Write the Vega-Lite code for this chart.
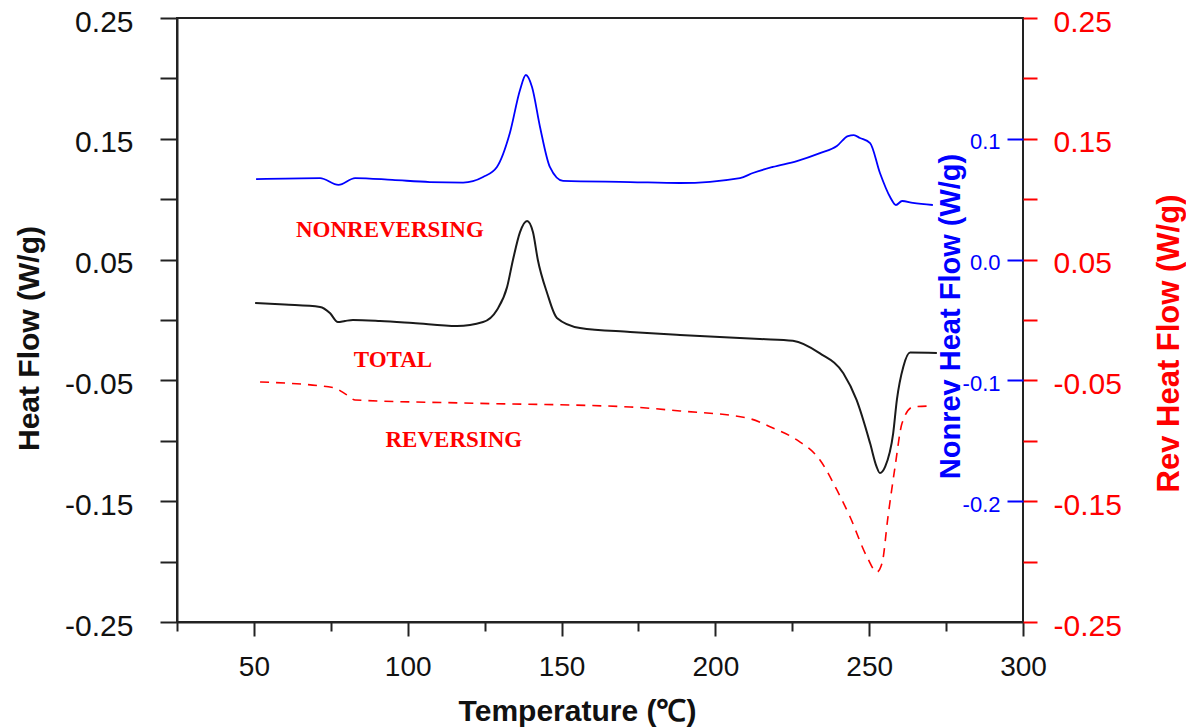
{
  "$schema": "https://vega.github.io/schema/vega-lite/v6.json",
  "width": 846,
  "height": 604,
  "autosize": {"type": "none"},
  "padding": {"left": 177, "top": 18, "right": 163, "bottom": 106},
  "background": "white",
  "config": {
    "view": {"stroke": "#222222", "strokeWidth": 2},
    "axis": {"grid": false, "labelFont": "Liberation Sans", "titleFont": "Liberation Sans"}
  },
  "datasets": {
    "total": [
      {"T": 50.4, "v": 0.0141}, {"T": 60, "v": 0.0128}, {"T": 71.5, "v": 0.0108}, {"T": 74.7, "v": 0.0058},
      {"T": 77.3, "v": -0.0017}, {"T": 79.6, "v": -0.0008}, {"T": 82.2, "v": 0.0}, {"T": 91, "v": -0.0008},
      {"T": 101.7, "v": -0.0025}, {"T": 116, "v": -0.005}, {"T": 124.5, "v": -0.0017}, {"T": 129, "v": 0.0083},
      {"T": 132.3, "v": 0.0273}, {"T": 134.2, "v": 0.0497}, {"T": 136.5, "v": 0.0728}, {"T": 138.8, "v": 0.082},
      {"T": 140.7, "v": 0.0728}, {"T": 142.3, "v": 0.0497}, {"T": 145.3, "v": 0.0224}, {"T": 148.5, "v": 0.0017},
      {"T": 156, "v": -0.0066}, {"T": 172.3, "v": -0.0099}, {"T": 188.5, "v": -0.0124}, {"T": 214.5, "v": -0.0157},
      {"T": 225.2, "v": -0.0171}, {"T": 234, "v": -0.0276}, {"T": 241.6, "v": -0.0441}, {"T": 245.9, "v": -0.0662},
      {"T": 250.3, "v": -0.1021}, {"T": 252.4, "v": -0.1214}, {"T": 253.5, "v": -0.1267}, {"T": 255.2, "v": -0.1214},
      {"T": 257.8, "v": -0.0938}, {"T": 259, "v": -0.0662}, {"T": 261.1, "v": -0.0387}, {"T": 263.3, "v": -0.027},
      {"T": 272, "v": -0.0273}
    ],
    "nonrev": [
      {"T": 50.7, "v": 0.0667}, {"T": 71.5, "v": 0.0675}, {"T": 77.5, "v": 0.0618}, {"T": 82.9, "v": 0.0675},
      {"T": 95, "v": 0.066}, {"T": 107.2, "v": 0.0642}, {"T": 118, "v": 0.0638}, {"T": 124.5, "v": 0.0684},
      {"T": 129, "v": 0.0767}, {"T": 133.2, "v": 0.1048}, {"T": 136.5, "v": 0.1404}, {"T": 138.4, "v": 0.1528},
      {"T": 140.4, "v": 0.1429}, {"T": 143, "v": 0.1098}, {"T": 146.2, "v": 0.0767}, {"T": 150.5, "v": 0.0651},
      {"T": 172.3, "v": 0.0642}, {"T": 188.5, "v": 0.0634}, {"T": 208, "v": 0.0675}, {"T": 212.2, "v": 0.0717},
      {"T": 218.7, "v": 0.0767}, {"T": 226.5, "v": 0.0816}, {"T": 234, "v": 0.0882}, {"T": 239.5, "v": 0.094},
      {"T": 243.1, "v": 0.1023}, {"T": 245, "v": 0.103}, {"T": 247, "v": 0.1007}, {"T": 250.3, "v": 0.0965},
      {"T": 253.5, "v": 0.0717}, {"T": 256.8, "v": 0.0518}, {"T": 258.7, "v": 0.0452}, {"T": 260.7, "v": 0.0485},
      {"T": 264.2, "v": 0.0469}, {"T": 270.7, "v": 0.0452}
    ],
    "rev": [
      {"T": 52, "v": -0.0513}, {"T": 75.8, "v": -0.056}, {"T": 80.2, "v": -0.062}, {"T": 82.9, "v": -0.0662},
      {"T": 118, "v": -0.0687}, {"T": 172.3, "v": -0.072}, {"T": 188.5, "v": -0.0753}, {"T": 210.3, "v": -0.0811},
      {"T": 218.7, "v": -0.0894}, {"T": 226.5, "v": -0.0993}, {"T": 234, "v": -0.1159}, {"T": 239.5, "v": -0.1407},
      {"T": 243.8, "v": -0.1631}, {"T": 249.3, "v": -0.1962}, {"T": 252.5, "v": -0.2086}, {"T": 254.2, "v": -0.2012},
      {"T": 256.1, "v": -0.1631}, {"T": 258.4, "v": -0.1217}, {"T": 260.7, "v": -0.0853}, {"T": 264.2, "v": -0.072},
      {"T": 269.8, "v": -0.0712}
    ],
    "labels": [
      {"T": 94.2, "v": 0.0745, "text": "NONREVERSING"},
      {"T": 95.2, "v": -0.0331, "text": "TOTAL"},
      {"T": 115, "v": -0.0993, "text": "REVERSING"}
    ]
  },
  "layer": [
    {
      "data": {"name": "rev"},
      "mark": {"type": "line", "color": "#ff0000", "strokeWidth": 1.6, "strokeDash": [9, 7], "interpolate": "monotone"},
      "encoding": {
        "x": {"field": "T", "type": "quantitative", "scale": {"domain": [25, 300], "nice": false, "zero": false}, "axis": null},
        "y": {
          "field": "v", "type": "quantitative",
          "scale": {"domain": [-0.25, 0.25], "nice": false, "zero": false},
          "axis": {
            "orient": "right",
            "values": [-0.25, -0.2, -0.15, -0.1, -0.05, 0, 0.05, 0.1, 0.15, 0.2, 0.25],
            "domain": false,
            "tickSize": 14, "tickWidth": 2, "tickColor": "#ff0000",
            "labelColor": "#ff0000", "labelFontSize": 30, "labelPadding": 16, "labelAlign": "left",
            "labelBaseline": "middle", "labelOffset": 4, "labelOverlap": false, "labelFlush": false, "labelBound": false,
            "labelExpr": "abs(round(datum.value*100)) % 10 == 5 ? (datum.value < 0 ? '-' : '') + format(abs(datum.value), '.2f') : ''",
            "title": "Rev Heat Flow (W/g)",
            "titleColor": "#ff0000", "titleFontSize": 31, "titleFontWeight": "bold",
            "titleAngle": 270, "titleX": 146, "titleY": 325, "titleAlign": "center", "titleBaseline": "middle"
          }
        }
      }
    },
    {
      "data": {"name": "total"},
      "mark": {"type": "line", "color": "#1a1a1a", "strokeWidth": 2, "interpolate": "monotone"},
      "encoding": {
        "x": {
          "field": "T", "type": "quantitative",
          "scale": {"domain": [25, 300], "nice": false, "zero": false},
          "axis": {
            "orient": "bottom",
            "values": [50, 100, 150, 200, 250, 300],
            "tickSize": 14, "tickWidth": 2, "tickColor": "#222222",
            "domainColor": "#222222", "domainWidth": 2,
            "labelFontSize": 28, "labelColor": "#111111", "labelPadding": 17,
            "labelFlush": false, "labelOverlap": false, "labelBound": false,
            "title": "Temperature (℃)",
            "titleFontSize": 30, "titleFontWeight": "bold", "titleColor": "#111111",
            "titleX": 400, "titleY": 98, "titleAlign": "center", "titleBaseline": "alphabetic", "titleAngle": 0
          }
        },
        "y": {
          "field": "v", "type": "quantitative",
          "scale": {"domain": [-0.25, 0.25], "nice": false, "zero": false},
          "axis": {
            "orient": "left",
            "values": [-0.25, -0.2, -0.15, -0.1, -0.05, 0, 0.05, 0.1, 0.15, 0.2, 0.25],
            "domainColor": "#222222", "domainWidth": 2,
            "tickSize": 17, "tickWidth": 2, "tickColor": "#222222",
            "labelColor": "#111111", "labelFontSize": 30, "labelPadding": 27,
            "labelBaseline": "middle", "labelOffset": 4, "labelOverlap": false, "labelFlush": false, "labelBound": false,
            "labelExpr": "abs(round(datum.value*100)) % 10 == 5 ? (datum.value < 0 ? '-' : '') + format(abs(datum.value), '.2f') : ''",
            "title": "Heat Flow (W/g)",
            "titleColor": "#111111", "titleFontSize": 30, "titleFontWeight": "bold",
            "titleAngle": 270, "titleX": -148, "titleY": 320, "titleAlign": "center", "titleBaseline": "middle"
          }
        }
      }
    },
    {
      "data": {"name": "nonrev"},
      "mark": {"type": "line", "color": "#0000ff", "strokeWidth": 1.8, "interpolate": "monotone"},
      "encoding": {
        "x": {
          "field": "T", "type": "quantitative",
          "scale": {"domain": [25, 300], "nice": false, "zero": false},
          "axis": {
            "orient": "bottom",
            "values": [25, 75, 125, 175, 225, 275],
            "tickSize": 9, "tickWidth": 2, "tickColor": "#222222",
            "labels": false, "domain": false, "title": null
          }
        },
        "y": {
          "field": "v", "type": "quantitative",
          "scale": {"domain": [-0.3, 0.2], "nice": false, "zero": false},
          "axis": {
            "orient": "right",
            "values": [-0.2, -0.1, 0, 0.1],
            "domain": false,
            "tickSize": -16, "tickWidth": 2, "tickColor": "#0000ff",
            "labelColor": "#0000ff", "labelFontSize": 22, "labelPadding": -7, "labelAlign": "right",
            "labelBaseline": "middle", "labelOffset": 3, "labelOverlap": false, "labelFlush": false, "labelBound": false,
            "labelExpr": "(datum.value < 0 ? '-' : '') + format(abs(datum.value), '.1f')",
            "title": "Nonrev Heat Flow (W/g)",
            "titleColor": "#0000ff", "titleFontSize": 29, "titleFontWeight": "bold",
            "titleAngle": 270, "titleX": -73, "titleY": 298, "titleAlign": "center", "titleBaseline": "middle"
          }
        }
      }
    },
    {
      "data": {"name": "labels"},
      "mark": {"type": "text", "color": "#ff0000", "font": "Liberation Serif", "fontWeight": "bold", "fontSize": 23, "align": "center", "baseline": "middle"},
      "encoding": {
        "x": {"field": "T", "type": "quantitative", "scale": {"domain": [25, 300], "nice": false, "zero": false}, "axis": null},
        "y": {"field": "v", "type": "quantitative", "scale": {"domain": [-0.25, 0.25], "nice": false, "zero": false}, "axis": null},
        "text": {"field": "text"}
      }
    }
  ],
  "resolve": {
    "scale": {"y": "independent"},
    "axis": {"x": "independent", "y": "independent"}
  }
}
